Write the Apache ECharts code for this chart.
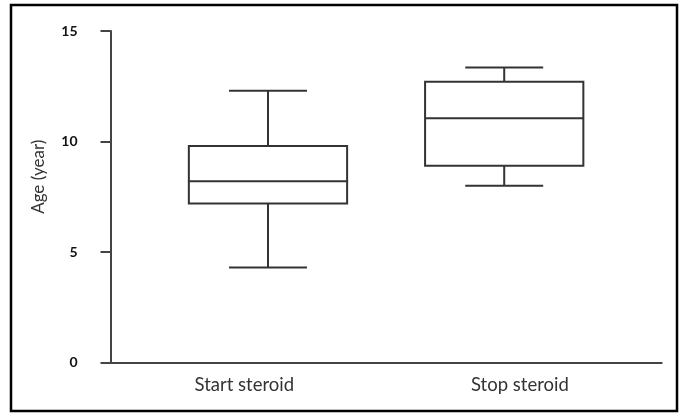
<!DOCTYPE html>
<html>
<head>
<meta charset="utf-8">
<script src="https://cdn.jsdelivr.net/npm/echarts@6/dist/echarts.min.js"></script>
<style>
  html, body { margin: 0; padding: 0; background: #fff; }
  #chart { width: 680px; height: 413px; }
</style>
</head>
<body>
<div id="chart"></div>
<script>
// ---- data ----
const categories = ['Start steroid', 'Stop steroid'];
const positions = [1, 2];              // box centres on the hidden value axis
const minVals = [4.3, 8.0];
const q1Vals = [7.2, 8.9];
const medianVals = [8.2, 11.05];
const q3Vals = [9.8, 12.7];
const maxVals = [12.3, 13.35];
const yMin = 0, yMax = 15, yStep = 5;
const yAxisTitle = 'Age (year)';

const BOX_RATIO = 0.67;   // box width relative to one unit of the position axis
const CAP_RATIO = 0.33;   // whisker cap width relative to one unit

const boxData = positions.map((p, i) => [p, minVals[i], q1Vals[i], medianVals[i], q3Vals[i], maxVals[i]]);

const chart = echarts.init(document.getElementById('chart'), null, { renderer: 'canvas' });
const lineColor = '#333';

chart.setOption({
  animation: false,
  backgroundColor: '#fff',
  grid: { left: 110.5, right: 18.3, top: 31, bottom: 50.5, containLabel: false },
  xAxis: [
    {
      type: 'category',
      data: categories,
      boundaryGap: true,
      axisLine: { show: true, lineStyle: { color: '#444', width: 2 } },
      axisTick: { show: false },
      axisLabel: {
        margin: 13,
        color: '#333',
        fontFamily: 'Lato',
        fontSize: 18.5,
        padding: [0, 8, 0, 0]
      },
      splitLine: { show: false }
    },
    {
      type: 'value',
      show: false,
      min: 1 / 3,
      max: 8 / 3,
      splitLine: { show: false }
    }
  ],
  yAxis: {
    type: 'value',
    min: yMin,
    max: yMax,
    interval: yStep,
    name: yAxisTitle,
    nameLocation: 'middle',
    nameGap: 63,
    nameTextStyle: {
      color: '#333',
      fontFamily: 'Lato',
      fontSize: 17,
      padding: [0, 0, 0, 40]
    },
    axisLine: { show: true, lineStyle: { color: '#444', width: 2 } },
    axisTick: { show: true, inside: false, length: 10, lineStyle: { color: '#444', width: 2 } },
    axisLabel: {
      margin: 33,
      color: '#111',
      fontFamily: 'Lato',
      fontWeight: 'bold',
      fontSize: 14
    },
    splitLine: { show: false }
  },
  graphic: [
    {
      type: 'rect',
      shape: { x: 11, y: 5, width: 666, height: 406 },
      style: { fill: 'none', stroke: '#000', lineWidth: 2.5 },
      silent: true,
      z: 100
    }
  ],
  series: [
    {
      type: 'custom',
      xAxisIndex: 1,
      yAxisIndex: 0,
      encode: { x: 0, y: [1, 2, 3, 4, 5] },
      data: boxData,
      renderItem: function (params, api) {
        const x = api.value(0);
        const pMin = api.coord([x, api.value(1)]);
        const pQ1 = api.coord([x, api.value(2)]);
        const pMed = api.coord([x, api.value(3)]);
        const pQ3 = api.coord([x, api.value(4)]);
        const pMax = api.coord([x, api.value(5)]);
        const unit = api.size([1, 0])[0];
        const bw = unit * BOX_RATIO;
        const cw = unit * CAP_RATIO;
        const cx = pMed[0];
        const st = { stroke: lineColor, lineWidth: 2, fill: null };
        return {
          type: 'group',
          children: [
            { type: 'line', shape: { x1: cx, y1: pQ3[1], x2: cx, y2: pMax[1] }, style: st },
            { type: 'line', shape: { x1: cx, y1: pQ1[1], x2: cx, y2: pMin[1] }, style: st },
            { type: 'line', shape: { x1: cx - cw / 2, y1: pMax[1], x2: cx + cw / 2, y2: pMax[1] }, style: st },
            { type: 'line', shape: { x1: cx - cw / 2, y1: pMin[1], x2: cx + cw / 2, y2: pMin[1] }, style: st },
            { type: 'rect', shape: { x: cx - bw / 2, y: pQ3[1], width: bw, height: pQ1[1] - pQ3[1] },
              style: { stroke: lineColor, lineWidth: 2, fill: '#fff' } },
            { type: 'line', shape: { x1: cx - bw / 2, y1: pMed[1], x2: cx + bw / 2, y2: pMed[1] }, style: st }
          ]
        };
      }
    }
  ]
});
</script>
</body>
</html>
